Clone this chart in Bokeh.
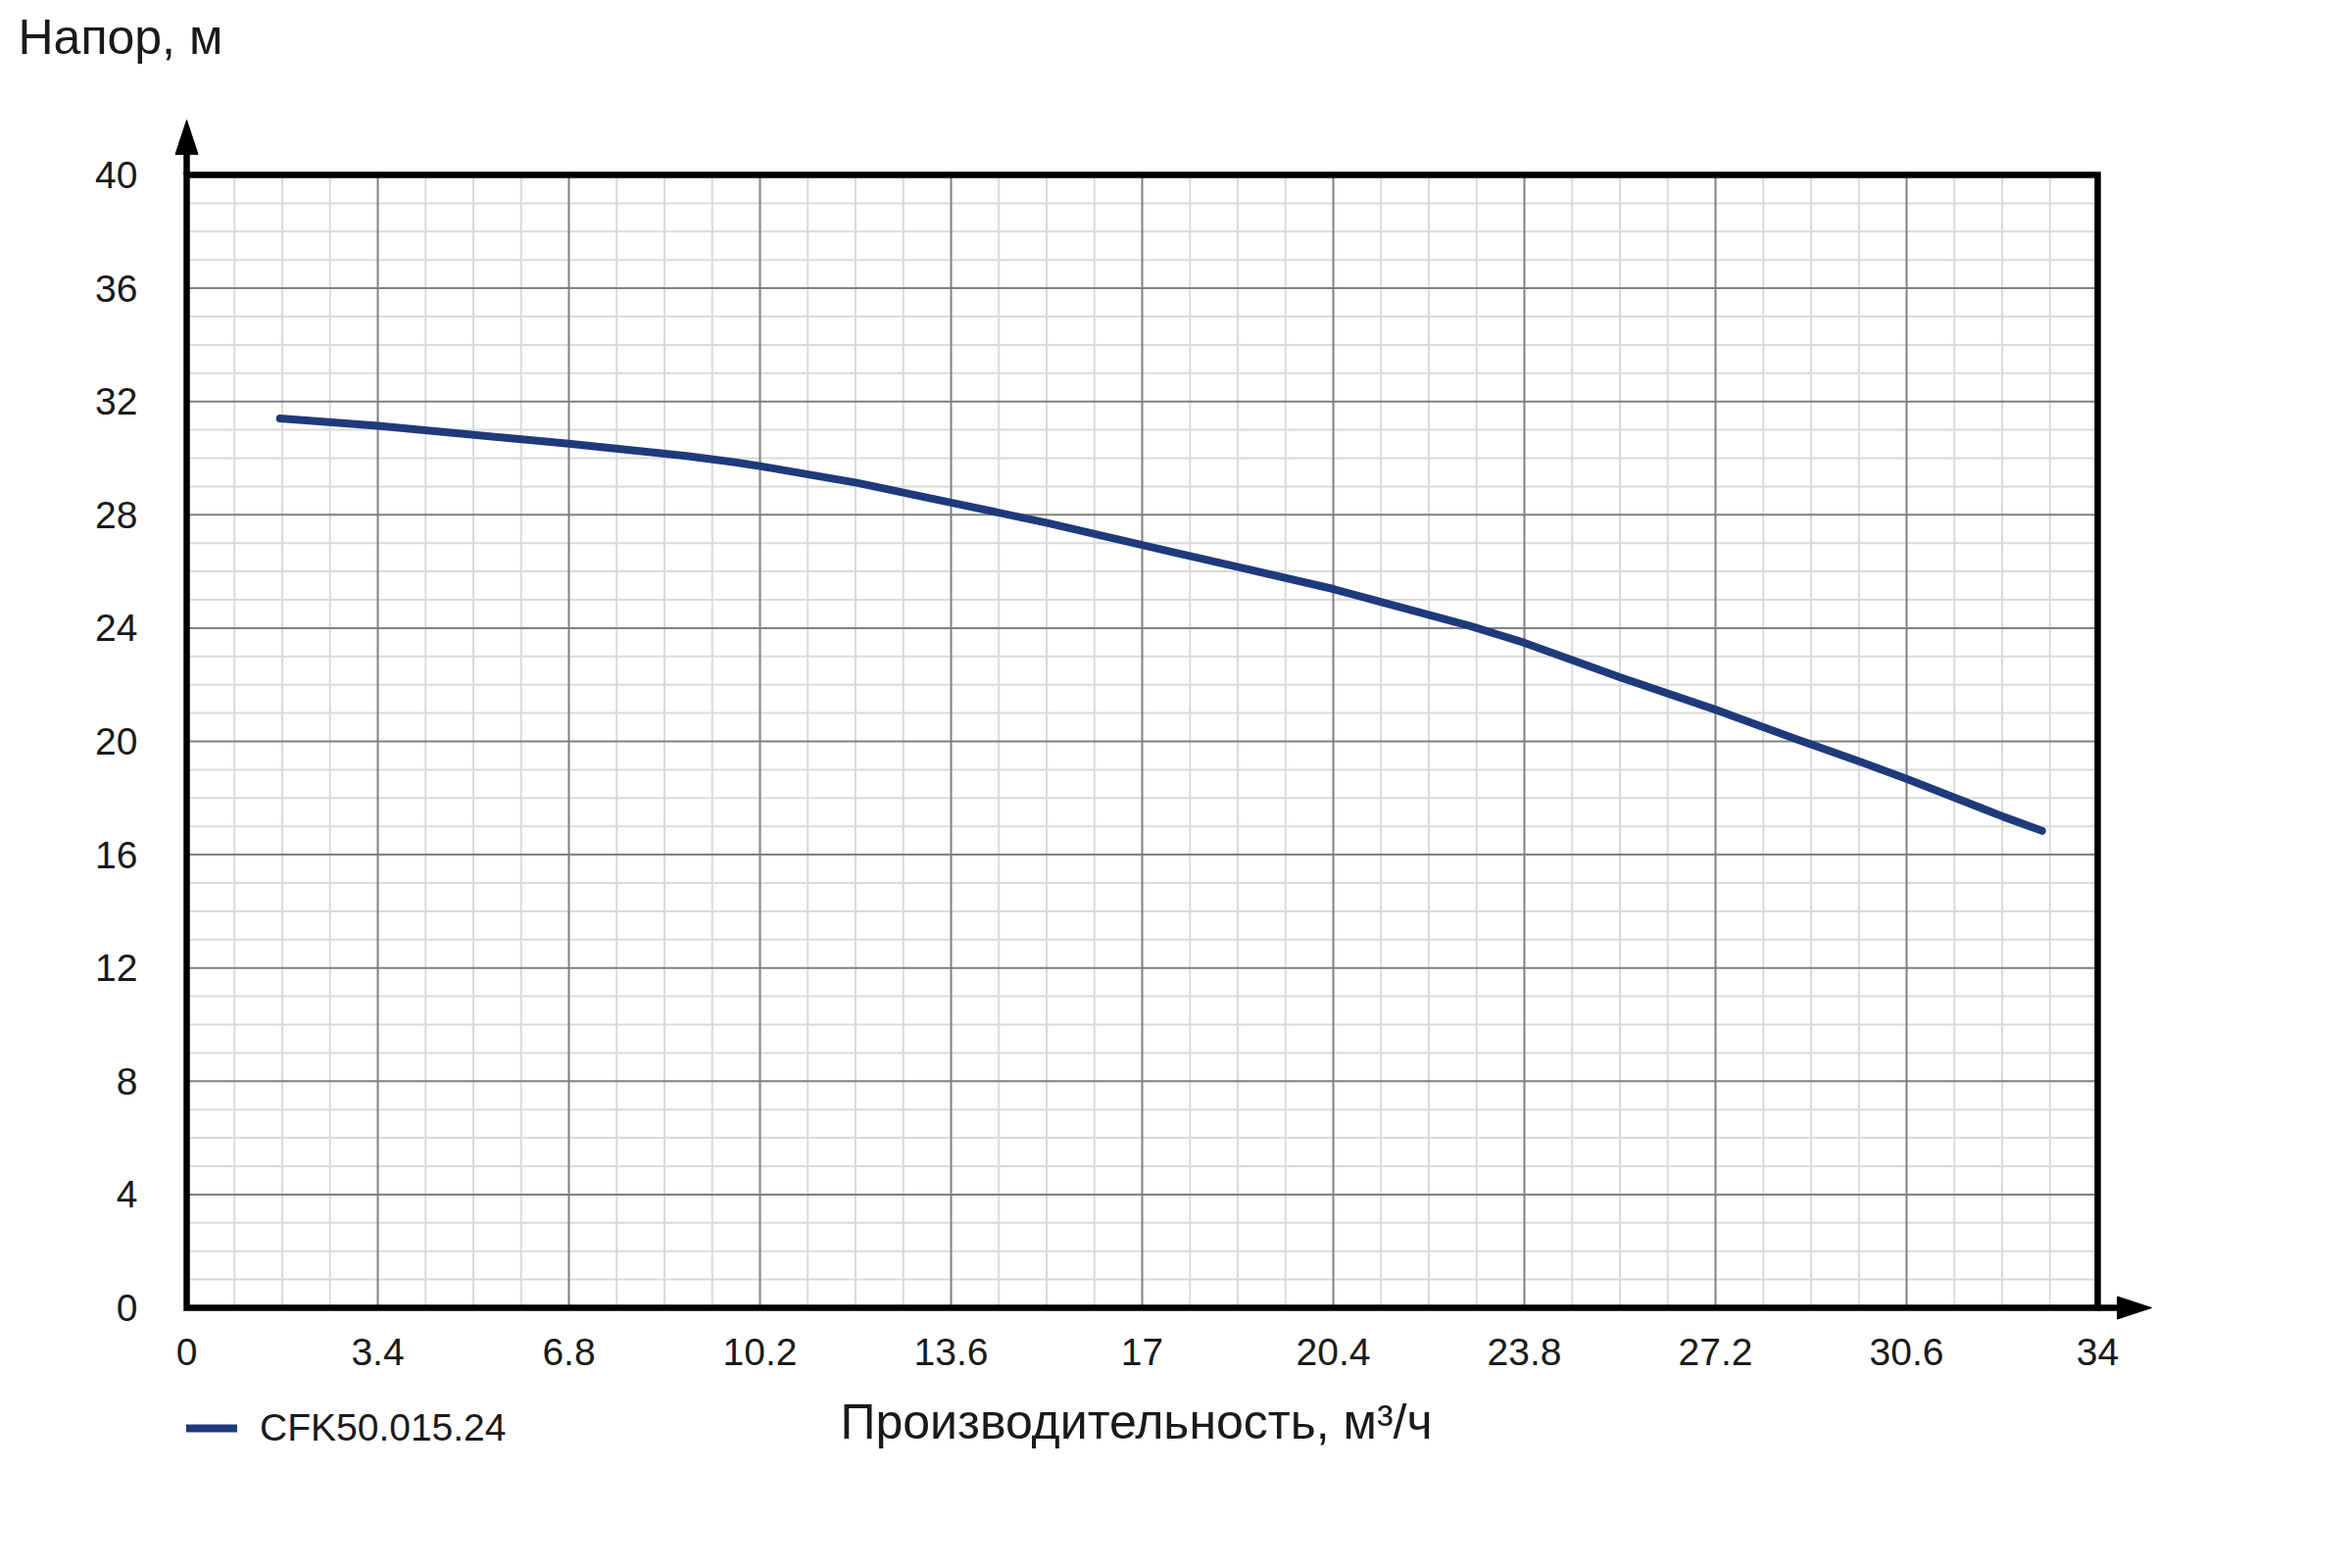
from bokeh.plotting import figure
from bokeh.models import Range1d, FixedTicker, Label, Legend, LegendItem
from bokeh.embed import file_html
from bokeh.resources import INLINE

# ---- data ----
flow = [1.66, 3.4, 6.8, 8.89, 9.76, 10.2, 11.92, 13.6, 15.29, 17.0, 17.6, 18.69,
        20.4, 22.84, 23.8, 25.52, 27.2, 28.65, 29.82, 30.6, 32.32, 33.01]
head = [31.40, 31.14, 30.51, 30.08, 29.85, 29.72, 29.13, 28.43, 27.72, 26.93, 26.66, 26.16,
        25.38, 24.07, 23.48, 22.25, 21.12, 20.07, 19.25, 18.68, 17.34, 16.84]
series_name = "CFK50.015.24"

x_ticks = [0, 3.4, 6.8, 10.2, 13.6, 17, 20.4, 23.8, 27.2, 30.6, 34]
x_labels = ["0", "3.4", "6.8", "10.2", "13.6", "17", "20.4", "23.8", "27.2", "30.6", "34"]
y_ticks = [0, 4, 8, 12, 16, 20, 24, 28, 32, 36, 40]
x_minor = [round(i * 0.85, 4) for i in range(41)]
y_minor = list(range(0, 41))

x_title = "Производительность, м³/ч"
y_title = "Напор, м"

FONT = "Liberation Sans"
TXT = "#1a1a1a"
CURVE = "#1f3a7b"

XMIN, XMAX, YMIN, YMAX = 0, 34, 0, 40

# ---- layout (pixels on the page) ----
W, H = 2384, 1584
PX_L, PX_R, PX_T, PX_B = 190, 2140, 178, 1334
xpx = (XMAX - XMIN) / (PX_R - PX_L)   # data units per pixel
ypx = (YMAX - YMIN) / (PX_B - PX_T)

p = figure(width=W, height=H, output_backend="svg", toolbar_location=None,
           x_range=Range1d(XMIN - PX_L * xpx, XMIN + (W - PX_L) * xpx),
           y_range=Range1d(YMIN - (H - PX_B) * ypx, YMIN + PX_B * ypx),
           min_border_left=0, min_border_right=0, min_border_top=0, min_border_bottom=0)
p.background_fill_color = "white"
p.border_fill_color = "white"
p.outline_line_color = None
p.xgrid.visible = False
p.ygrid.visible = False

# axes fixed at the data origin, spanning the chart box
p.xaxis.fixed_location = YMIN
p.yaxis.fixed_location = XMIN
p.xaxis.bounds = (XMIN - 12 * xpx, XMAX)
p.yaxis.bounds = (YMIN, YMAX)
p.xaxis.ticker = FixedTicker(ticks=x_ticks, minor_ticks=[])
p.yaxis.ticker = FixedTicker(ticks=y_ticks, minor_ticks=[])
p.xaxis.major_label_overrides = {t: l for t, l in zip(x_ticks, x_labels)}
for ax in (p.xaxis[0], p.yaxis[0]):
    ax.axis_line_color = None
    ax.major_tick_line_color = None
    ax.minor_tick_line_color = None
    ax.major_tick_out = 0
    ax.major_tick_in = 0
    ax.minor_tick_out = 0
    ax.minor_tick_in = 0
    ax.major_label_text_font = FONT
    ax.major_label_text_font_size = "39px"
    ax.major_label_text_color = TXT
p.xaxis.major_label_standoff = 31
p.yaxis.major_label_standoff = 50
p.xaxis.axis_label = x_title
p.xaxis.axis_label_text_font = FONT
p.xaxis.axis_label_text_font_size = "50px"
p.xaxis.axis_label_text_font_style = "normal"
p.xaxis.axis_label_text_color = TXT
p.xaxis.axis_label_standoff = 27

# grid lines, limited to the chart box
vx_minor = [v for v in x_minor if all(abs(v - t) > 1e-6 for t in x_ticks)]
hy_minor = [v for v in y_minor if v not in y_ticks]
p.segment(x0=vx_minor, y0=[YMIN] * len(vx_minor), x1=vx_minor, y1=[YMAX] * len(vx_minor),
          line_color="#dadada", line_width=2)
p.segment(x0=[XMIN] * len(hy_minor), y0=hy_minor, x1=[XMAX] * len(hy_minor), y1=hy_minor,
          line_color="#dadada", line_width=2)
vx_major = x_ticks[1:-1]
hy_major = y_ticks[1:-1]
p.segment(x0=vx_major, y0=[YMIN] * len(vx_major), x1=vx_major, y1=[YMAX] * len(vx_major),
          line_color="#808080", line_width=2)
p.segment(x0=[XMIN] * len(hy_major), y0=hy_major, x1=[XMAX] * len(hy_major), y1=hy_major,
          line_color="#808080", line_width=2)

# curve
r = p.line(flow, head, line_color=CURVE, line_width=8, line_cap="round", line_join="round")

# chart box
p.quad(left=[XMIN], right=[XMAX], bottom=[YMIN], top=[YMAX], fill_color=None,
       line_color="black", line_width=6.5, line_join="miter")

# axis arrows
tip_y = YMAX + 56 * ypx
tip_x = XMAX + 55 * xpx
head_len, head_half = 35, 11.5
p.segment(x0=[XMIN, XMAX], y0=[YMAX, YMIN], x1=[XMIN, tip_x - head_len * xpx],
          y1=[tip_y - head_len * ypx, YMIN], line_color="black", line_width=6.5)
p.patches(xs=[[XMIN, XMIN - head_half * xpx, XMIN + head_half * xpx],
              [tip_x, tip_x - head_len * xpx, tip_x - head_len * xpx]],
          ys=[[tip_y, tip_y - head_len * ypx, tip_y - head_len * ypx],
              [YMIN, YMIN + head_half * ypx, YMIN - head_half * ypx]],
          fill_color="black", line_color="black", line_width=1)

# y title (top left)
p.add_layout(Label(x=XMIN - (PX_L - 18) * xpx, y=YMIN + (PX_B - 37) * ypx, text=y_title,
                   text_font=FONT, text_font_size="50px", text_color=TXT,
                   text_align="left", text_baseline="alphabetic"))

# legend below the chart
legend = Legend(items=[LegendItem(label=series_name, renderers=[r])],
                location=(PX_L, H - 1479), orientation="horizontal",
                glyph_width=52, glyph_height=44, label_height=44, label_standoff=23,
                label_text_font=FONT, label_text_font_size="39px", label_text_color=TXT,
                padding=0, margin=0, spacing=0,
                border_line_color=None, background_fill_alpha=0)
p.add_layout(legend, "center")

open("out.html", "w").write(file_html(p, INLINE))
